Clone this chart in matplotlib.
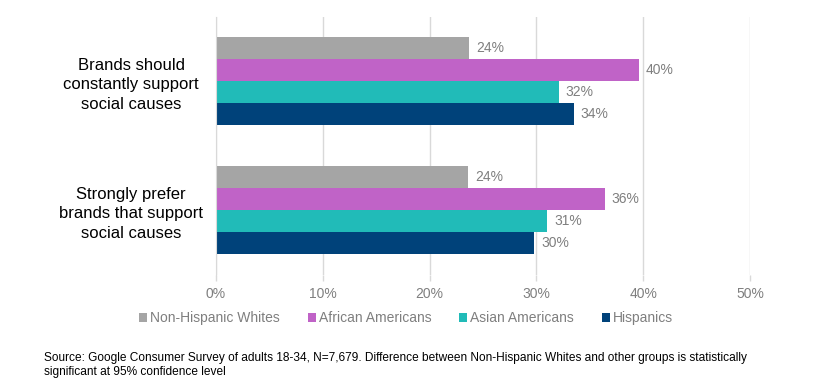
import matplotlib
matplotlib.use("Agg")
import matplotlib.pyplot as plt
import numpy as np

plt.rcParams['font.family'] = ['Liberation Sans', 'DejaVu Sans']

categories = ["Brands should\nconstantly support\nsocial causes",
              "Strongly prefer\nbrands that support\nsocial causes"]
series_names = ["Non-Hispanic Whites", "African Americans", "Asian Americans", "Hispanics"]
non_hispanic_whites = [23.7, 23.6]
african_americans = [39.6, 36.4]
asian_americans = [32.1, 31.0]
hispanics = [33.5, 29.8]
labels_nhw = ["24%", "24%"]
labels_aa = ["40%", "36%"]
labels_asian = ["32%", "31%"]
labels_hisp = ["34%", "30%"]
tick_values = [0, 10, 20, 30, 40, 50]
tick_labels = ["0%", "10%", "20%", "30%", "40%", "50%"]

series = [non_hispanic_whites, african_americans, asian_americans, hispanics]
series_labels = [labels_nhw, labels_aa, labels_asian, labels_hisp]
colors = ["#A5A5A5", "#C063C7", "#21BBB8", "#00427A"]

W, H = 829, 392
fig = plt.figure(figsize=(W / 100, H / 100), dpi=100)
left, right = 216 / W, 750 / W
top_px, bot_px = 16.5, 274.5
ax = fig.add_axes([left, 1 - bot_px / H, right - left, (bot_px - top_px) / H])

n = len(series)
bar_h = 22 / 129
y = np.arange(len(categories))
for i, (vals, labs, c, name) in enumerate(zip(series, series_labels, colors, series_names)):
    pos = y + (i - (n - 1) / 2) * bar_h
    bars = ax.barh(pos, vals, height=bar_h, color=c, label=name, zorder=3)
    for b, lab in zip(bars, labs):
        ax.annotate(lab, (b.get_width(), b.get_y() + b.get_height() / 2),
                    xytext=(7, 0), textcoords="offset pixels",
                    va="center", ha="left", fontsize=10, color="#7F7F7F")

ax.set_xlim(0, 50)
ax.set_ylim(len(categories) - 0.5, -0.5)
ax.set_xticks(tick_values)
ax.set_xticklabels(tick_labels)
ax.set_yticks(y)
ax.set_yticklabels(categories, fontsize=12, color="black", ha="center", linespacing=1.38)
ax.tick_params(axis="y", length=0, pad=61)
ax.tick_params(axis="x", length=4.3, width=1, color="#D9D9D9", pad=5, labelsize=10, labelcolor="#7F7F7F")
ax.grid(axis="x", color="#D9D9D9", linewidth=1, zorder=0)
for s in ["top", "right", "bottom"]:
    ax.spines[s].set_visible(False)
ax.spines["left"].set_color("#D9D9D9")
ax.spines["left"].set_zorder(4)

handles, labels = ax.get_legend_handles_labels()
leg = fig.legend(handles, labels, loc="center", bbox_to_anchor=(406 / W, 1 - 318 / H),
                 ncol=4, frameon=False, fontsize=10, handlelength=0.6, handleheight=0.6,
                 handletextpad=0.2, columnspacing=2.0, labelcolor="#7F7F7F")

fig.text(44 / W, 1 - 365 / H,
         "Source: Google Consumer Survey of adults 18-34, N=7,679. Difference between Non-Hispanic Whites and other groups is statistically\nsignificant at 95% confidence level",
         fontsize=8.6, color="black", va="center", ha="left", linespacing=1.2)

fig.savefig("out.png", dpi=100)
